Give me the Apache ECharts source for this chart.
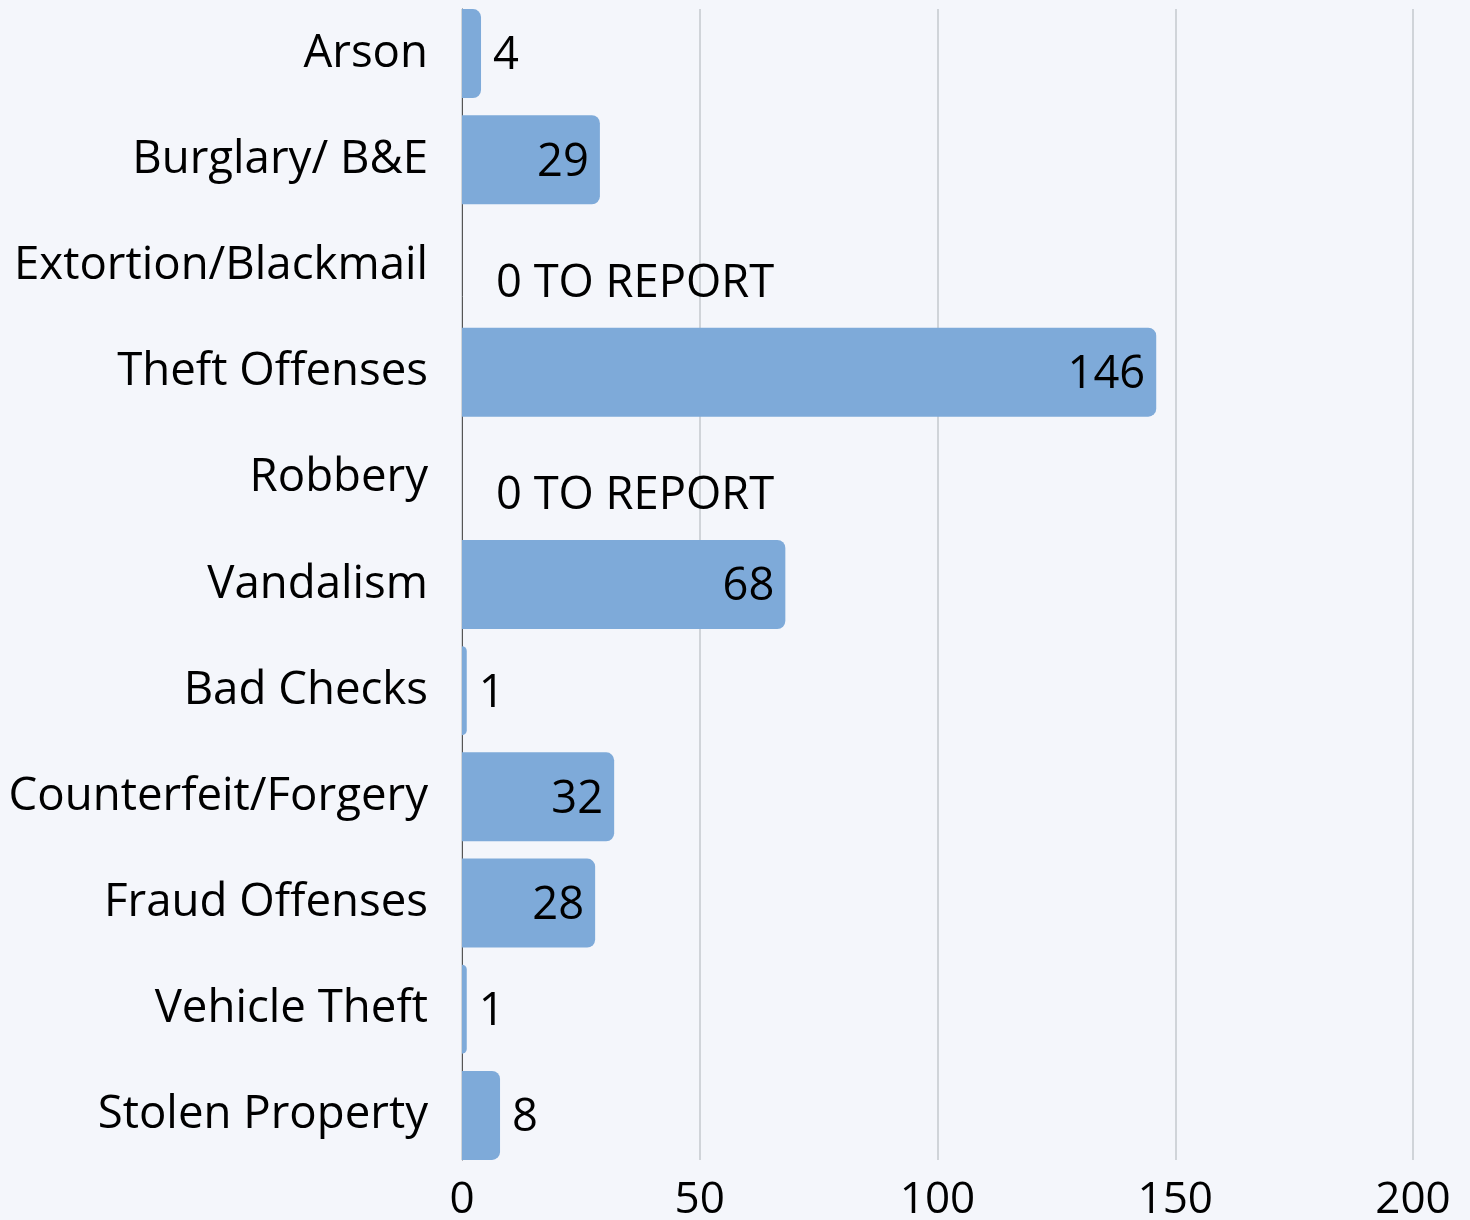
<!DOCTYPE html>
<html>
<head>
<meta charset="utf-8">
<script src="https://cdn.jsdelivr.net/npm/echarts@6/dist/echarts.min.js"></script>
<style>
html,body{margin:0;padding:0;background:#f4f6fb;}
#chart{width:1470px;height:1220px;}
</style>
</head>
<body>
<div id="chart"></div>
<script>
const categories = ['Arson','Burglary/ B&E','Extortion/Blackmail','Theft Offenses','Robbery','Vandalism','Bad Checks','Counterfeit/Forgery','Fraud Offenses','Vehicle Theft','Stolen Property'];
const values = [4, 29, 0, 146, 0, 68, 1, 32, 28, 1, 8];
const zeroText = '0 TO REPORT';
const xMin = 0, xMax = 200, xInterval = 50;

const FONT = 'Open Sans';
const seriesData = values.map(function (v) {
  let label;
  if (v === 0) {
    label = { position: 'right', distance: 12, offset: [22, 18] };
  } else if (v >= 20) {
    label = { position: 'insideRight', distance: 11, offset: [0, 3] };
  } else {
    label = { position: 'right', distance: 12, offset: [0, 3] };
  }
  return { value: v, label: label };
});

const chart = echarts.init(document.getElementById('chart'), null, { renderer: 'canvas' });
chart.setOption({
  backgroundColor: '#f4f6fb',
  animation: false,
  grid: [
    { left: 462, right: 57, top: 9, bottom: 60, containLabel: false, outerBoundsMode: 'none' },
    { left: 462, right: 57, top: 0.5, bottom: 51.5, containLabel: false, outerBoundsMode: 'none' }
  ],
  xAxis: [
    {
      gridIndex: 0, type: 'value', min: xMin, max: xMax, interval: xInterval,
      axisLine: { show: false }, axisTick: { show: false },
      splitLine: { show: true, lineStyle: { color: '#c5c8ce', width: 1.5 } },
      axisLabel: { fontFamily: FONT, fontSize: 44, color: '#000', margin: 18 }
    },
    { gridIndex: 1, type: 'value', min: xMin, max: xMax, show: false }
  ],
  yAxis: [
    {
      gridIndex: 0, type: 'category', data: [''],
      axisLine: { show: true, lineStyle: { color: '#555', width: 1 } },
      axisTick: { show: false }, axisLabel: { show: false }, splitLine: { show: false }
    },
    {
      gridIndex: 1, type: 'category', data: categories, inverse: true,
      axisLine: { show: false }, axisTick: { show: false },
      axisLabel: { fontFamily: FONT, fontSize: 45.6, color: '#000', margin: 34 }
    }
  ],
  series: [{
    type: 'bar',
    xAxisIndex: 1, yAxisIndex: 1,
    data: seriesData,
    barWidth: 89,
    itemStyle: { color: '#7eaad9', borderRadius: [0, 8, 8, 0] },
    label: {
      show: true, fontFamily: FONT, fontSize: 45.3, color: '#000',
      formatter: function (p) { return p.value === 0 ? zeroText : String(p.value); }
    }
  }]
});
</script>
</body>
</html>
